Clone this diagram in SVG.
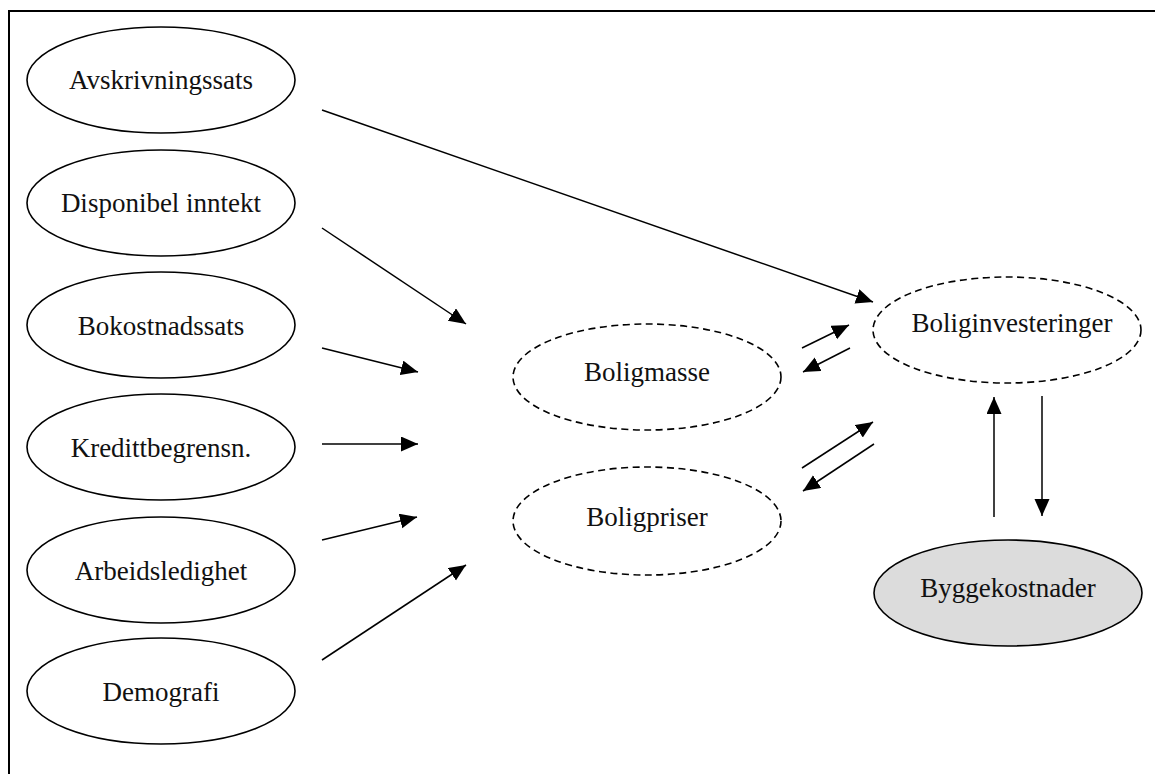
<svg xmlns="http://www.w3.org/2000/svg" width="1155" height="774" viewBox="0 0 1155 774">
<defs>
<marker id="ah" markerUnits="userSpaceOnUse" markerWidth="18" markerHeight="16" refX="17" refY="7.5" orient="auto">
<path d="M0,0 L17,7.5 L0,15 z" fill="#000"/>
</marker>
<style>
.n{fill:#fff;stroke:#000;stroke-width:1.6}
.d{fill:#fff;stroke:#000;stroke-width:1.6;stroke-dasharray:7,4.5}
.g{fill:#dcdcdc;stroke:#000;stroke-width:1.6}
text{font-family:"Liberation Serif","Times New Roman",serif;font-size:27px;text-anchor:middle;fill:#111}
.c line{stroke:#000;stroke-width:1.5;marker-end:url(#ah)}
</style>
</defs>
<rect width="1155" height="774" fill="#fff"/>
<path d="M9,774 V11 H1155" fill="none" stroke="#000" stroke-width="2"/>
<g id="n-avskrivningssats"><ellipse class="n" cx="161" cy="80" rx="134" ry="53"/><text x="161" y="89">Avskrivningssats</text></g>
<g id="n-disponibel"><ellipse class="n" cx="161" cy="203" rx="134" ry="53"/><text x="161" y="212">Disponibel inntekt</text></g>
<g id="n-bokostnadssats"><ellipse class="n" cx="161" cy="325" rx="134" ry="53"/><text x="161" y="335">Bokostnadssats</text></g>
<g id="n-kredittbegrensn"><ellipse class="n" cx="161" cy="447" rx="134" ry="53"/><text x="161" y="457">Kredittbegrensn.</text></g>
<g id="n-arbeidsledighet"><ellipse class="n" cx="161" cy="570" rx="134" ry="53"/><text x="161" y="580">Arbeidsledighet</text></g>
<g id="n-demografi"><ellipse class="n" cx="161" cy="691" rx="134" ry="53"/><text x="161" y="701">Demografi</text></g>
<g id="n-boligmasse"><ellipse class="d" cx="647" cy="377" rx="134" ry="53"/><text x="647" y="381">Boligmasse</text></g>
<g id="n-boligpriser"><ellipse class="d" cx="647" cy="521" rx="134" ry="54"/><text x="647" y="526">Boligpriser</text></g>
<g id="n-boliginvesteringer"><ellipse class="d" cx="1007" cy="330" rx="134" ry="53"/><text x="1012" y="332">Boliginvesteringer</text></g>
<g id="n-byggekostnader"><ellipse class="g" cx="1008" cy="593" rx="134" ry="53"/><text x="1008" y="597">Byggekostnader</text></g>
<g id="connectors" class="c">
<line x1="322" y1="110" x2="873" y2="302"/>
<line x1="322" y1="228" x2="466" y2="324"/>
<line x1="322" y1="348" x2="418" y2="372"/>
<line x1="322" y1="444" x2="418" y2="444"/>
<line x1="322" y1="540" x2="417" y2="517"/>
<line x1="322" y1="660" x2="466" y2="565"/>
<line x1="802" y1="348" x2="849" y2="325"/>
<line x1="850" y1="348" x2="803" y2="372"/>
<line x1="802" y1="468" x2="873" y2="422"/>
<line x1="874" y1="444" x2="803" y2="491"/>
<line x1="994" y1="517" x2="994" y2="397"/>
<line x1="1042" y1="396" x2="1042" y2="516"/>
</g>
</svg>
